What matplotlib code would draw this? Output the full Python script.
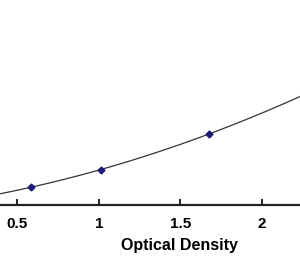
import numpy as np
import matplotlib
matplotlib.use("Agg")
import matplotlib.pyplot as plt

# Standard curve points (visible part of the chart)
optical_density = [0.583, 1.012, 1.675]
concentration = [1.25, 2.5, 5.0]
x_ticks = [0.5, 1, 1.5, 2]
x_tick_labels = ["0.5", "1", "1.5", "2"]
x_label = "Optical Density"

plt.rcParams['font.family'] = ['Liberation Sans', 'DejaVu Sans']

fig = plt.figure(figsize=(3.0, 2.56), dpi=100)
ax = fig.add_axes([0.0, 51 / 256, 1.0, 205 / 256])

# quadratic fit curve through the standards
coef = np.polyfit(optical_density, concentration, 2)
xlim = (0.393, 2.233)
xs = np.linspace(xlim[0], xlim[1], 300)
ax.plot(xs, np.polyval(coef, xs), color="#333333", lw=0.9, zorder=2)
ax.plot(optical_density, concentration, linestyle="none", marker="D",
        markersize=3.5, color="#1c1c78", zorder=3)

ax.set_xlim(*xlim)
ax.set_ylim(0, 205 / 14.2)

for s in ["left", "right", "top"]:
    ax.spines[s].set_visible(False)
ax.spines["bottom"].set_linewidth(1.6)
ax.spines["bottom"].set_color("#222222")
ax.set_yticks([])
ax.set_xticks(x_ticks)
ax.set_xticklabels(x_tick_labels, fontweight="bold", fontsize=11)
ax.tick_params(axis="x", direction="in", length=4.5, width=1.4, color="#222222", pad=9)
ax.set_xlabel(x_label, fontweight="bold", fontsize=11.5)
ax.xaxis.set_label_coords(179 / 300, (205 - 238) / 205)

fig.savefig("out.png", dpi=100)
